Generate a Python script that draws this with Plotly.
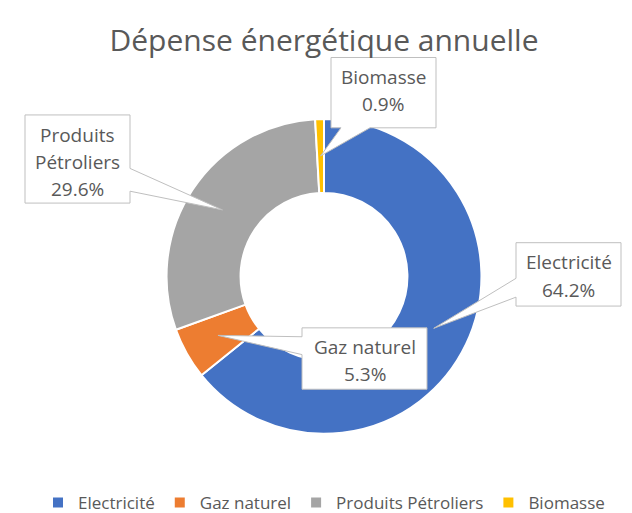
import math
import plotly.graph_objects as go

# ---- data ----
categories = ["Electricité", "Gaz naturel", "Produits Pétroliers", "Biomasse"]
values = [64.2, 5.3, 29.6, 0.9]
label_lines = [["Electricité", "64.2%"], ["Gaz naturel", "5.3%"],
               ["Produits", "Pétroliers", "29.6%"], ["Biomasse", "0.9%"]]
colors = ["#4472C4", "#ED7D31", "#A5A5A5", "#FFC000"]
title_text = "Dépense énergétique annuelle"

# ---- layout (pixels) ----
W, H = 632, 513
CX, CY, R = 316, 271, 159
HOLE = 0.53
FONT = "Open Sans"
TXT = "#595959"
BORDER = "#BFBFBF"

# callout boxes: (left, top, right, bottom), side of wedge, wedge base (a, b), first-line y, line step
boxes = [
    ((508, 237, 613, 301), "left", (273, 292), 257, 28),
    ((294, 323, 419, 385), "left", (332, 350), 342, 28),
    ((17, 108, 122, 197), "right", (162, 185), 128, 27.5),
    ((323, 50, 428, 121), "bottom", (333, 362), 70, 27),
]

def px(x):
    return x / W

def py(y):
    return 1 - y / H

fig = go.Figure(go.Pie(
    labels=categories, values=values, sort=False, direction="clockwise",
    rotation=0, hole=HOLE, textinfo="none", hoverinfo="label+percent",
    marker=dict(colors=colors, line=dict(color="white", width=2)),
    domain=dict(x=[px(CX - R), px(CX + R)], y=[py(CY + R), py(CY - R)]),
))

total = sum(values)
cum = 0.0
shapes, annotations = [], []
r_mid = R * (1 + HOLE) / 2
for v, lines, (box, side, (a, b), y0, step) in zip(values, label_lines, boxes):
    theta = 2 * math.pi * (cum + v / 2) / total
    cum += v
    tx = CX + r_mid * math.sin(theta)
    ty = CY - r_mid * math.cos(theta)
    L, T, Rr, B = box
    if side == "left":
        pts = [(L, T), (Rr, T), (Rr, B), (L, B), (L, b), (tx, ty), (L, a)]
    elif side == "right":
        pts = [(L, T), (Rr, T), (Rr, a), (tx, ty), (Rr, b), (Rr, B), (L, B)]
    else:
        pts = [(L, T), (Rr, T), (Rr, B), (b, B), (tx, ty), (a, B), (L, B)]
    path = "M " + " L ".join(f"{px(x):.5f},{py(y):.5f}" for x, y in pts) + " Z"
    shapes.append(dict(type="path", xref="paper", yref="paper", path=path,
                       fillcolor="white", line=dict(color=BORDER, width=1),
                       layer="above"))
    for i, ln in enumerate(lines):
        annotations.append(dict(text=ln, xref="paper", yref="paper",
                                x=px((L + Rr) / 2), y=py(y0 + i * step),
                                xanchor="center", yanchor="middle", showarrow=False,
                                font=dict(family=FONT, size=19, color=TXT)))

fig.update_layout(
    width=W, height=H, margin=dict(l=0, r=0, t=0, b=0),
    paper_bgcolor="white", plot_bgcolor="white",
    title=dict(text=title_text, x=0.5, xanchor="center", y=py(32), yanchor="middle",
               font=dict(family=FONT, size=30, color=TXT)),
    shapes=shapes, annotations=annotations,
    showlegend=True,
    legend=dict(orientation="h", x=0.5, xanchor="center", y=py(500), yanchor="middle",
                font=dict(family=FONT, size=17, color=TXT), itemwidth=30,
                bgcolor="rgba(0,0,0,0)"),
)

fig.write_html("out.html")
